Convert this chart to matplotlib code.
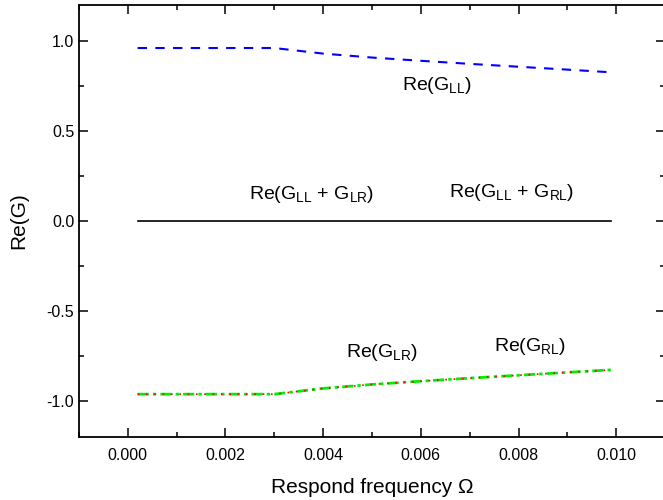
import numpy as np
import matplotlib.pyplot as plt
from matplotlib.ticker import MultipleLocator, FormatStrFormatter

plt.rcParams['font.family'] = ['Liberation Sans', 'DejaVu Sans']
plt.rcParams['mathtext.fontset'] = 'custom'
plt.rcParams['mathtext.rm'] = 'Liberation Sans'
plt.rcParams['mathtext.it'] = 'Liberation Sans'

# response frequency
omega = [0.0002, 0.003, 0.004, 0.005, 0.006, 0.007, 0.008, 0.009, 0.0099]
re_gll = [0.961, 0.961, 0.930, 0.908, 0.890, 0.873, 0.857, 0.841, 0.826]
re_glr = [-0.962, -0.962, -0.930, -0.908, -0.890, -0.873, -0.857, -0.841, -0.827]
re_grl = [-0.962, -0.962, -0.930, -0.908, -0.890, -0.873, -0.857, -0.841, -0.827]
re_sum = [0.0, 0.0, 0.0, 0.0, 0.0, 0.0, 0.0, 0.0, 0.0]

fig = plt.figure(figsize=(6.63, 5.0), dpi=100)
ax = fig.add_axes([79 / 663, 63 / 500, 586 / 663, 432 / 500])

ax.plot(omega, re_sum, color="black", lw=1.2)
ax.plot(omega, re_gll, color="blue", lw=1.5, dashes=(4.5, 4))
ax.plot(omega, re_glr, color="#00ee00", lw=2.0, dashes=(4, 1.5, 1.2, 1.5))
ax.plot(omega, re_grl, color="red", lw=1.2, dashes=(1, 4))

fs = 14
ax.text(0.00633, 0.75, r"Re(G$_{LL}$)", fontsize=fs, ha="center", va="center")
ax.text(0.00377, 0.145, r"Re(G$_{LL}$ + G$_{LR}$)", fontsize=fs, ha="center", va="center")
ax.text(0.00786, 0.16, r"Re(G$_{LL}$ + G$_{RL}$)", fontsize=fs, ha="center", va="center")
ax.text(0.0052, -0.73, r"Re(G$_{LR}$)", fontsize=fs, ha="center", va="center")
ax.text(0.00823, -0.695, r"Re(G$_{RL}$)", fontsize=fs, ha="center", va="center")

ax.set_xlim(-0.001, 0.011)
ax.set_ylim(-1.2, 1.2)
ax.xaxis.set_major_locator(MultipleLocator(0.002))
ax.xaxis.set_minor_locator(MultipleLocator(0.001))
ax.yaxis.set_major_locator(MultipleLocator(0.5))
ax.yaxis.set_minor_locator(MultipleLocator(0.25))
ax.xaxis.set_major_formatter(FormatStrFormatter("%.3f"))
ax.yaxis.set_major_formatter(FormatStrFormatter("%.1f"))
ax.set_xticks([0.0, 0.002, 0.004, 0.006, 0.008, 0.010])

ax.tick_params(which="both", direction="in", top=True, right=True,
               labelsize=11.5, width=1.1)
ax.tick_params(which="major", length=6.5)
ax.tick_params(which="minor", length=3.5)
ax.tick_params(axis="x", which="major", pad=8)
for s in ax.spines.values():
    s.set_linewidth(1.3)

ax.set_xlabel("Respond frequency Ω", fontsize=15, labelpad=11)
ax.set_ylabel("Re(G)", fontsize=15, labelpad=13)

fig.savefig("out.png", dpi=100)
